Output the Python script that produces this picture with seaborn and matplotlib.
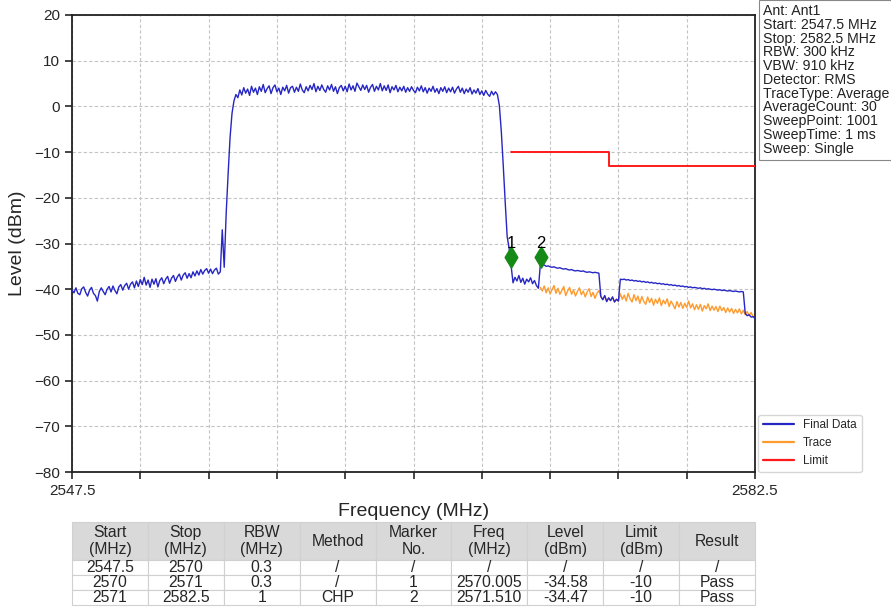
import numpy as np
import pandas as pd
import matplotlib
matplotlib.use('Agg')
import matplotlib.pyplot as plt
import seaborn as sns

# sweep settings (from the instrument info box)
f_start = 2547.5
f_stop = 2582.5
n_pts = 351

# Final Data, every 0.1 MHz
final_level = [
    -40.2, -40.8, -39.7, -40.9, -41.2, -39.9, -39.5, -40.7, -41.5, -40.2,
    -39.6, -40.9, -41.4, -42.6, -40.5, -39.7, -40.5, -41.2, -40.0, -39.4,
    -40.6, -39.3, -40.3, -41.0, -39.5, -39.0, -40.2, -39.2, -38.7, -40.0,
    -38.9, -38.4, -39.7, -38.2, -39.4, -37.9, -39.0, -37.4, -39.1, -38.0,
    -39.6, -37.8, -38.9, -37.7, -39.5, -38.1, -37.5, -38.8, -37.8, -37.2,
    -38.7, -37.6, -37.0, -38.3, -37.3, -36.7, -38.0, -36.9, -36.4, -37.6,
    -36.6, -37.5, -36.2, -37.1, -36.0, -36.9, -35.7, -36.7, -35.9, -35.5,
    -36.5, -35.6, -36.6, -35.8, -35.4, -36.7, -36.2, -27.0, -35.2, -23.5,
    -14.8, -6.8, -1.5, 1.2, 2.6, 1.9, 3.6, 2.5, 4.1, 2.9,
    3.8, 2.4, 4.4, 3.1, 4.0, 2.6, 4.3, 3.3, 4.8, 3.0,
    3.9, 4.5, 2.8, 4.1, 4.7, 3.2, 4.0, 2.6, 4.2, 3.4,
    4.6, 2.9, 4.1, 4.4, 3.1, 4.2, 3.3, 4.9, 3.6, 3.0,
    4.3, 3.4, 4.6, 3.7, 5.0, 3.2, 4.4, 3.5, 4.7, 3.7,
    3.1, 4.5, 3.6, 4.8, 3.3, 4.3, 2.8, 4.1, 4.6, 3.4,
    4.4, 3.2, 4.9, 3.6, 4.5, 3.3, 5.1, 4.3, 3.5, 4.7,
    3.7, 4.6, 3.1, 4.2, 4.8, 3.3, 4.4, 3.6, 5.0, 3.4,
    4.5, 3.5, 4.7, 3.0, 4.3, 3.6, 4.6, 3.2, 4.2, 3.4,
    4.4, 3.1, 4.1, 3.3, 4.3, 3.5, 3.0, 4.2, 3.4, 4.5,
    3.2, 4.1, 2.9, 4.0, 3.3, 4.4, 3.1, 3.9, 2.8, 4.1,
    3.3, 4.3, 3.0, 4.0, 3.2, 4.2, 2.9, 3.8, 4.4, 3.1,
    4.0, 2.8, 3.8, 3.1, 4.1, 2.7, 3.6, 2.9, 3.9, 2.6,
    3.4, 2.4, 3.5, 2.7, 2.2, 3.3, 2.5, 3.2, 2.6, 0.2,
    -5.5, -13.0, -21.0, -28.5, -31.0, -34.8, -38.6, -37.4, -38.2, -37.0,
    -38.5, -37.6, -38.9, -37.8, -38.4, -37.5, -38.8, -38.1, -39.2, -39.8,
    -34.6, -34.8, -34.7, -35.0, -34.9, -35.1, -35.2, -35.1, -35.3, -35.4,
    -35.3, -35.5, -35.6, -35.5, -35.7, -35.8, -35.7, -35.9, -36.0, -35.9,
    -36.0, -36.1, -36.0, -36.2, -36.3, -36.2, -36.3, -36.4, -36.3, -36.4,
    -36.5, -41.6, -42.3, -41.4, -42.7, -41.9, -42.5, -41.7, -42.8, -42.2,
    -42.6, -37.8, -37.9, -37.8, -38.0, -37.9, -38.1, -38.0, -38.2, -38.1,
    -38.3, -38.2, -38.4, -38.3, -38.5, -38.4, -38.6, -38.5, -38.7, -38.6,
    -38.8, -38.7, -38.9, -38.8, -39.0, -38.9, -39.1, -39.0, -39.2, -39.1,
    -39.3, -39.2, -39.4, -39.3, -39.5, -39.4, -39.6, -39.5, -39.7, -39.6,
    -39.7, -39.8, -39.7, -39.9, -39.8, -40.0, -39.9, -40.0, -40.1, -40.0,
    -40.1, -40.2, -40.1, -40.3, -40.2, -40.3, -40.4, -40.3, -40.4, -40.5,
    -40.4, -40.5, -40.6, -40.5, -40.6, -45.3, -45.8, -45.6, -46.1, -46.0,
    -46.4,
]

# raw trace of the CHP segment, 2571.5 .. 2582.5 MHz
trace_start = 2571.5
trace_level = [
    -39.6, -40.4, -39.3, -40.8, -39.7, -41.0, -40.1, -39.2, -40.9, -39.8,
    -41.1, -40.3, -39.4, -41.4, -40.4, -39.6, -41.1, -40.2, -41.5, -40.5,
    -39.7, -41.2, -40.4, -41.7, -40.6, -39.9, -41.6, -40.7, -42.0, -40.9,
    -40.3, -41.6, -42.3, -41.4, -42.7, -41.9, -42.5, -41.7, -42.8, -42.2,
    -42.6, -41.0, -42.2, -41.3, -42.6, -40.9, -42.1, -42.8, -41.2, -42.5,
    -41.5, -43.1, -41.6, -42.7, -43.3, -41.7, -42.9, -42.0, -43.5, -42.2,
    -43.1, -41.9, -43.6, -42.4, -43.2, -42.1, -43.8, -42.6, -43.4, -44.3,
    -42.7, -43.9, -42.9, -44.2, -43.1, -44.0, -42.6, -44.1, -43.2, -44.5,
    -43.4, -44.4, -43.3, -44.8, -43.6, -44.3, -43.2, -44.7, -43.7, -44.6,
    -43.8, -44.9, -43.7, -44.7, -44.0, -45.1, -44.1, -45.0, -44.2, -45.3,
    -44.4, -45.2, -44.3, -45.4, -44.6, -45.6, -44.9, -45.8, -45.1, -46.0,
    -46.2,
]

limit_freq = [2570.0, 2575.0, 2575.0, 2582.5]
limit_level = [-10, -10, -13, -13]

marker_no = ['1', '2']
marker_freq = [2570.005, 2571.510]
marker_level = [-33.0, -33.0]

info_lines = [
    'Ant: Ant1', 'Start: 2547.5 MHz', 'Stop: 2582.5 MHz', 'RBW: 300 kHz',
    'VBW: 910 kHz', 'Detector: RMS', 'TraceType: Average', 'AverageCount: 30',
    'SweepPoint: 1001', 'SweepTime: 1 ms', 'Sweep: Single',
]

table_header = ['Start\n(MHz)', 'Stop\n(MHz)', 'RBW\n(MHz)', 'Method', 'Marker\nNo.',
                'Freq\n(MHz)', 'Level\n(dBm)', 'Limit\n(dBm)', 'Result']
table_rows = [
    ['2547.5', '2570', '0.3', '/', '/', '/', '/', '/', '/'],
    ['2570', '2571', '0.3', '/', '1', '2570.005', '-34.58', '-10', 'Pass'],
    ['2571', '2582.5', '1', 'CHP', '2', '2571.510', '-34.47', '-10', 'Pass'],
]

# frequency grid of the traces
final_freq = np.linspace(f_start, f_stop, n_pts)
trace_freq = np.linspace(trace_start, f_stop, len(trace_level))

sns.set_style('ticks')
plt.rcParams['font.family'] = ['Liberation Sans', 'DejaVu Sans']

fig = plt.figure(figsize=(8.91, 6.11), dpi=100)
ax = fig.add_axes([72 / 891, 1 - 472 / 611, 683 / 891, 457 / 611])

sns.lineplot(x=trace_freq, y=trace_level, color='#ff9a2e', lw=1.0, label='Trace',
             estimator=None, sort=False, ax=ax, zorder=2)
sns.lineplot(x=final_freq, y=final_level, color='#2626c4', lw=1.0, label='Final Data',
             estimator=None, sort=False, ax=ax, zorder=3)
sns.lineplot(x=limit_freq, y=limit_level, color='#ff1a1a', lw=1.4, label='Limit',
             estimator=None, sort=False, ax=ax, zorder=3)
sns.scatterplot(x=marker_freq, y=marker_level, marker='d', s=120, color='#168a16',
                edgecolor='#168a16', ax=ax, zorder=5, legend=False)
for n, f, lv in zip(marker_no, marker_freq, marker_level):
    ax.text(f, lv + 3.0, n, ha='center', va='center', fontsize=12, color='black', zorder=6)

ax.set_xlim(f_start, f_stop)
ax.set_ylim(-80, 20)
xt = np.linspace(f_start, f_stop, 11)
ax.set_xticks(xt)
ax.set_xticklabels(['2547.5'] + [''] * 9 + ['2582.5'])
ax.set_yticks(np.arange(-80, 21, 10))
ax.tick_params(axis='both', labelsize=11, length=5, width=1.2, direction='out')
ax.grid(True, color='#c4c4c4', linestyle=(0, (3, 2)), lw=0.8)
for s in ax.spines.values():
    s.set_visible(True)
    s.set_color('#222222')
    s.set_linewidth(1.3)
ax.set_xlabel('Frequency (MHz)', fontsize=14)
ax.xaxis.set_label_coords(0.5, -(503 - 472) / 457)
ax.set_ylabel('Level (dBm)', fontsize=14, labelpad=6)

# legend outside, lower right
h, l = ax.get_legend_handles_labels()
order = [l.index('Final Data'), l.index('Trace'), l.index('Limit')]
leg = ax.legend([h[i] for i in order], [l[i] for i in order], loc='lower left',
                bbox_to_anchor=(1.005, 0.0), fontsize=8.5, frameon=True, handlelength=2.6,
                borderaxespad=0.0, fancybox=True, edgecolor='#cccccc')
for ln in leg.get_lines():
    ln.set_linewidth(1.6)

# instrument info box
fig.text(763 / 891, 1 - 4 / 611, '\n'.join(info_lines), ha='left', va='top',
         fontsize=10.2, linespacing=0.98, color='#222222',
         bbox=dict(boxstyle='square,pad=0.3', fc='white', ec='#888888', lw=0.8))

# result table
tax = fig.add_axes([72 / 891, 1 - 605 / 611, 683 / 891, 83 / 611])
tax.axis('off')
tbl = tax.table(cellText=table_rows, colLabels=table_header, cellLoc='center',
                bbox=[0, 0, 1, 1])
tbl.auto_set_font_size(False)
tbl.set_fontsize(11.3)
for (r, c), cell in tbl.get_celld().items():
    cell.set_edgecolor('#d0d0d0')
    cell.set_linewidth(0.8)
    if r == 0:
        cell.set_facecolor('#d9d9d9')
        cell.set_height(0.46)
    else:
        cell.set_height(0.18)
    cell.PAD = 0.02

fig.savefig('out.png', dpi=100)
